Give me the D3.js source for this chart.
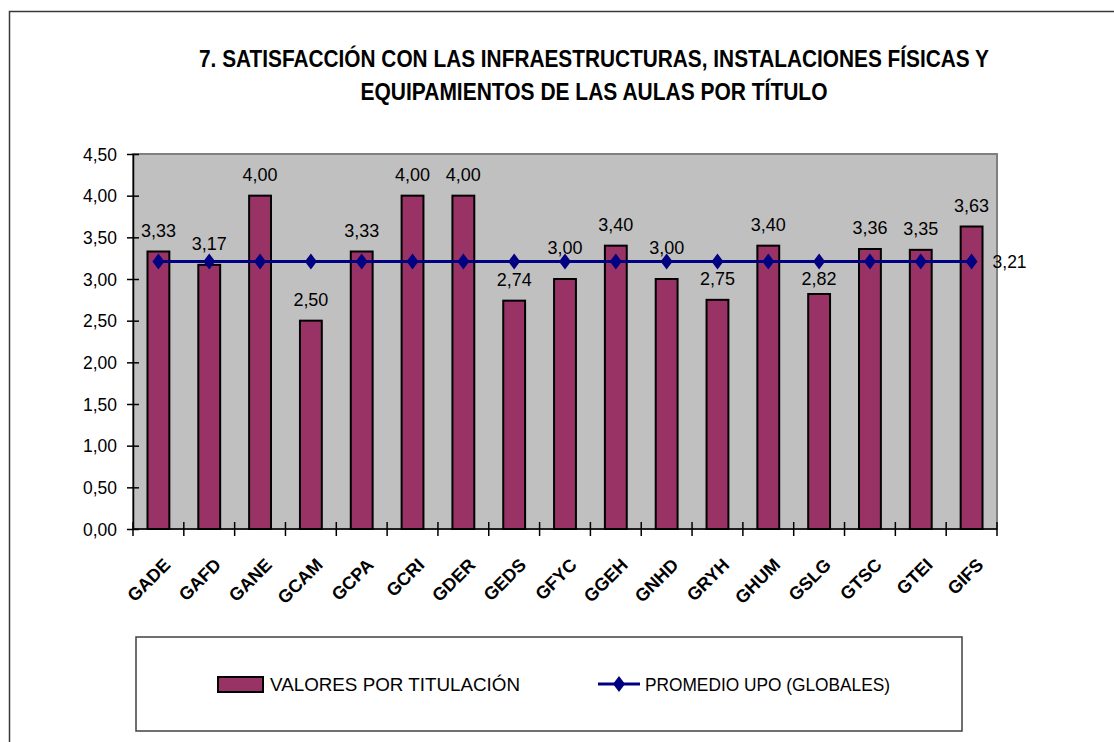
<!DOCTYPE html>
<html>
<head>
<meta charset="utf-8">
<script src="https://cdn.jsdelivr.net/npm/d3@7"></script>
<style>
  body { margin: 0; background: #fff; }
  text { font-family: "Liberation Sans", Arial, sans-serif; }
</style>
</head>
<body>
<script>
var width = 1114, height = 742;

var categories = ["GADE", "GAFD", "GANE", "GCAM", "GCPA", "GCRI", "GDER", "GEDS", "GFYC",
  "GGEH", "GNHD", "GRYH", "GHUM", "GSLG", "GTSC", "GTEI", "GIFS"];
var valores = [3.33, 3.17, 4.00, 2.50, 3.33, 4.00, 4.00, 2.74, 3.00,
  3.40, 3.00, 2.75, 3.40, 2.82, 3.36, 3.35, 3.63];
var promedio = [3.21, 3.21, 3.21, 3.21, 3.21, 3.21, 3.21, 3.21, 3.21,
  3.21, 3.21, 3.21, 3.21, 3.21, 3.21, 3.21, 3.21];
var yTicks = [0, 0.5, 1, 1.5, 2, 2.5, 3, 3.5, 4, 4.5];
var titleLines = ["7. SATISFACCIÓN CON LAS INFRAESTRUCTURAS, INSTALACIONES FÍSICAS Y",
  "EQUIPAMIENTOS DE LAS AULAS POR TÍTULO"];
var legendNames = ["VALORES POR TITULACIÓN", "PROMEDIO UPO (GLOBALES)"];

var fmt = function(v) { return d3.format(".2f")(v).replace(".", ","); };

var svg = d3.select("body").append("svg").attr("width", width).attr("height", height);

// outer chart border (runs off the page right and bottom)
svg.append("rect")
  .attr("x", 9.5).attr("y", 11.5).attr("width", 1300).attr("height", 900)
  .attr("fill", "#fff").attr("stroke", "#3a3a3a").attr("stroke-width", 1.5);

// title, squeezed like Arial Narrow Bold
svg.selectAll(".title")
  .data(titleLines)
  .enter()
  .append("text")
  .attr("x", 594)
  .attr("y", (d, i) => 67 + i * 33)
  .attr("text-anchor", "middle")
  .attr("font-size", 24)
  .attr("font-weight", "bold")
  .attr("textLength", (d, i) => i == 0 ? 790 : 467)
  .attr("lengthAdjust", "spacingAndGlyphs")
  .text(d => d);

var pLeft = 133, pRight = 997, pTop = 154, pBottom = 529;

var x = d3.scaleBand().domain(categories).range([pLeft, pRight]).paddingInner(0.57).paddingOuter(0.285);
var y = d3.scaleLinear().domain([0, 4.5]).range([pBottom, pTop]);
var cx = c => x(c) + x.bandwidth() / 2;

// plot area
svg.append("rect")
  .attr("x", pLeft).attr("y", pTop).attr("width", pRight - pLeft).attr("height", pBottom - pTop)
  .attr("fill", "#c0c0c0").attr("stroke", "#808080").attr("stroke-width", 2);

// bars
svg.selectAll(".bar")
  .data(valores)
  .enter()
  .append("rect")
  .attr("x", (d, i) => x(categories[i]))
  .attr("y", d => y(d))
  .attr("width", x.bandwidth())
  .attr("height", d => y(0) - y(d))
  .attr("fill", "#993366")
  .attr("stroke", "#000")
  .attr("stroke-width", 2);

// y axis
var yAxis = svg.append("g")
  .attr("transform", "translate(" + pLeft + ",0)")
  .call(d3.axisLeft(y).tickValues(yTicks).tickFormat(fmt).tickSizeInner(6).tickSizeOuter(0).tickPadding(10));
yAxis.select(".domain").attr("stroke", "#000").attr("stroke-width", 1.5);
yAxis.selectAll(".tick line").attr("x2", 6).attr("x1", -6).attr("stroke", "#000").attr("stroke-width", 1.5);
yAxis.selectAll(".tick text")
  .attr("font-size", 19).attr("fill", "#000")
  .attr("font-family", "'Liberation Sans', Arial, sans-serif")
  .attr("textLength", 34).attr("lengthAdjust", "spacingAndGlyphs");

// x axis
var half = x.step() / 2;
var xAxis = svg.append("g");
xAxis.append("line")
  .attr("x1", pLeft).attr("x2", pRight).attr("y1", pBottom).attr("y2", pBottom)
  .attr("stroke", "#000").attr("stroke-width", 1.5);
var edges = categories.map(c => cx(c) - half).concat([pRight]);
xAxis.selectAll(".xt")
  .data(edges)
  .enter()
  .append("line")
  .attr("x1", d => d).attr("x2", d => d)
  .attr("y1", pBottom - 7).attr("y2", pBottom + 7)
  .attr("stroke", "#000").attr("stroke-width", 1.5);
xAxis.selectAll(".xl")
  .data(categories)
  .enter()
  .append("text")
  .attr("transform", d => "translate(" + (cx(d) + 13) + "," + (pBottom + 37) + ") rotate(-45)")
  .attr("text-anchor", "end")
  .attr("font-size", 18)
  .attr("font-weight", "bold")
  .text(d => d);

// value labels, moved off the average line when they would sit on it
svg.selectAll(".vl")
  .data(valores)
  .enter()
  .append("text")
  .attr("x", (d, i) => cx(categories[i]))
  .attr("y", (d, i) => {
    var base = y(d) - 15, ly = y(promedio[i]);
    if (base > ly - 7 && base < ly + 8) base = ly - 8;
    else if (base >= ly + 8 && base - 14 < ly + 9) base = ly + 23;
    return base;
  })
  .attr("text-anchor", "middle")
  .attr("font-size", 19)
  .attr("textLength", 35).attr("lengthAdjust", "spacingAndGlyphs")
  .text(d => fmt(d));

// average line with diamond markers
var line = d3.line()
  .x((d, i) => cx(categories[i]))
  .y(d => y(d));
svg.append("path")
  .datum(promedio)
  .attr("d", line)
  .attr("fill", "none")
  .attr("stroke", "#000080")
  .attr("stroke-width", 3);

var diamond = "M0,-8L6,0L0,8L-6,0Z";
svg.selectAll(".mk")
  .data(promedio)
  .enter()
  .append("path")
  .attr("d", diamond)
  .attr("transform", (d, i) => "translate(" + cx(categories[i]) + "," + y(d) + ")")
  .attr("fill", "#000080");

var last = promedio.length - 1;
svg.append("text")
  .attr("x", cx(categories[last]) + 21)
  .attr("y", y(promedio[last]))
  .attr("dy", "0.35em")
  .attr("font-size", 19)
  .attr("textLength", 34).attr("lengthAdjust", "spacingAndGlyphs")
  .text(fmt(promedio[last]));

// legend
var legend = svg.append("g");
legend.append("rect")
  .attr("x", 136).attr("y", 637).attr("width", 826).attr("height", 94)
  .attr("fill", "#fff").attr("stroke", "#404040").attr("stroke-width", 1.5);
legend.append("rect")
  .attr("x", 218).attr("y", 677).attr("width", 45).attr("height", 15)
  .attr("fill", "#993366").attr("stroke", "#000").attr("stroke-width", 2);
legend.append("text")
  .attr("x", 270).attr("y", 684).attr("dy", "0.35em")
  .attr("font-size", 19)
  .attr("textLength", 250).attr("lengthAdjust", "spacingAndGlyphs")
  .text(legendNames[0]);
legend.append("line")
  .attr("x1", 598).attr("x2", 640).attr("y1", 684).attr("y2", 684)
  .attr("stroke", "#000080").attr("stroke-width", 3);
legend.append("path")
  .attr("d", diamond)
  .attr("transform", "translate(619,684)")
  .attr("fill", "#000080");
legend.append("text")
  .attr("x", 645).attr("y", 684).attr("dy", "0.35em")
  .attr("font-size", 19)
  .attr("textLength", 245).attr("lengthAdjust", "spacingAndGlyphs")
  .text(legendNames[1]);
</script>
</body>
</html>
